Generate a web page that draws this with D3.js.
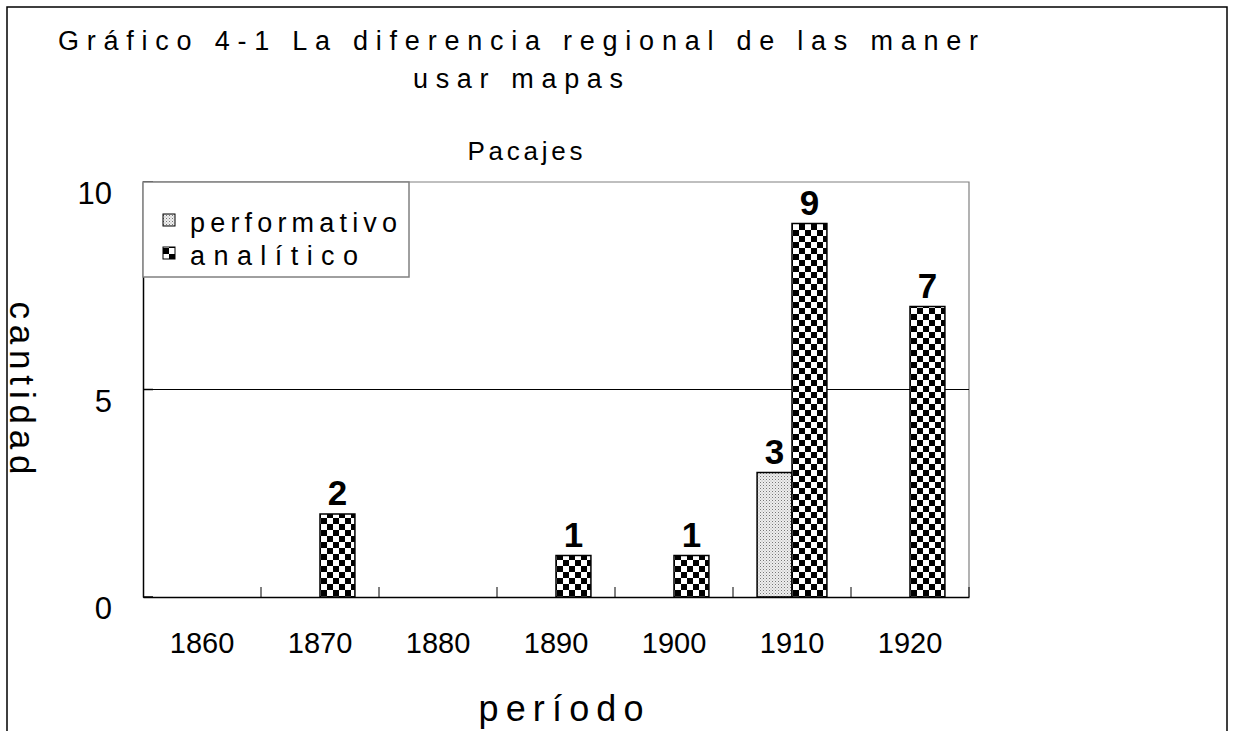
<!DOCTYPE html>
<html>
<head>
<meta charset="utf-8">
<script src="https://cdn.jsdelivr.net/npm/d3@7"></script>
<style>
  body { margin: 0; background: #fff; }
  text { font-family: "Liberation Sans", Arial, sans-serif; fill: #000; }
</style>
</head>
<body>
<div id="chart"></div>
<script>
'use strict';

// chart values
const categories = ['1860', '1870', '1880', '1890', '1900', '1910', '1920'];
const seriesNames = ['performativo', 'analítico'];
const performativo = [0, 0, 0, 0, 0, 3, 0];
const analitico = [0, 2, 0, 1, 1, 9, 7];
const yTicks = [0, 5, 10];

const titleLines = ['Gráfico 4-1  La diferencia regional de las maner', 'usar mapas'];
const subTitle = 'Pacajes';
const xTitle = 'período';
const yTitle = 'cantidad';

const W = 1233, H = 731;
const margin = {top: 182, right: 264, bottom: 134, left: 143};
const width = W - margin.left - margin.right,
    height = H - margin.top - margin.bottom;

const svg = d3.select('#chart')
  .append('svg')
    .attr('width', W)
    .attr('height', H);

// fill patterns
const defs = svg.append('defs');
const dots = defs.append('pattern')
    .attr('id', 'pat-perf')
    .attr('patternUnits', 'userSpaceOnUse')
    .attr('width', 3).attr('height', 3);
dots.append('rect').attr('width', 3).attr('height', 3).attr('fill', '#eeeeee');
dots.append('rect').attr('width', 1).attr('height', 1).attr('fill', '#777');
dots.append('rect').attr('x', 1.5).attr('y', 1.5).attr('width', 1).attr('height', 1).attr('fill', '#aaa');

const checks = defs.append('pattern')
    .attr('id', 'pat-anal')
    .attr('patternUnits', 'userSpaceOnUse')
    .attr('width', 12).attr('height', 12);
checks.append('rect').attr('width', 12).attr('height', 12).attr('fill', '#fff');
checks.append('rect').attr('width', 6).attr('height', 6).attr('fill', '#000');
checks.append('rect').attr('x', 6).attr('y', 6).attr('width', 6).attr('height', 6).attr('fill', '#000');

const fills = {'performativo': 'url(#pat-perf)', 'analítico': 'url(#pat-anal)'};

// outer frame
svg.append('rect')
    .attr('x', 7).attr('y', 7)
    .attr('width', 1220).attr('height', 760)
    .attr('fill', 'none')
    .attr('stroke', '#000')
    .attr('stroke-width', 1.5);

// titles
svg.selectAll('.title')
  .data(titleLines)
  .join('text')
    .attr('class', 'title')
    .attr('x', 518)
    .attr('y', (d, i) => 50 + i * 38)
    .attr('text-anchor', 'middle')
    .attr('font-size', 27)
    .attr('textLength', (d, i) => i === 0 ? 920 : 210)
    .attr('lengthAdjust', 'spacing')
    .text(d => d);

svg.append('text')
    .attr('x', 525)
    .attr('y', 160)
    .attr('text-anchor', 'middle')
    .attr('font-size', 26)
    .attr('textLength', 115)
    .attr('lengthAdjust', 'spacing')
    .text(subTitle);

const g = svg.append('g')
    .attr('transform', `translate(${margin.left},${margin.top})`);

// scales
const x = d3.scaleBand()
    .domain(categories)
    .range([0, width]);
const xs = d3.scaleBand()
    .domain(seriesNames)
    .range([0, x.bandwidth()])
    .paddingOuter(0.69);
const y = d3.scaleLinear()
    .domain([0, 10])
    .range([height, 0]);

// plot frame (top / right) and gridline
g.append('path')
    .attr('d', `M0,${y(10)}H${width}V${height}`)
    .attr('fill', 'none')
    .attr('stroke', '#808080')
    .attr('stroke-width', 1.2);

g.selectAll('.grid')
  .data(yTicks.filter(t => t > 0 && t < 10))
  .join('line')
    .attr('class', 'grid')
    .attr('x1', 0).attr('x2', width)
    .attr('y1', d => y(d)).attr('y2', d => y(d))
    .attr('stroke', '#000')
    .attr('stroke-width', 1);

// bars
const rows = categories.map((c, i) => ({
    cat: c,
    vals: [
        {key: 'performativo', value: performativo[i]},
        {key: 'analítico', value: analitico[i]}
    ]
}));

const groups = g.selectAll('.grp')
  .data(rows)
  .join('g')
    .attr('class', 'grp')
    .attr('transform', d => `translate(${x(d.cat)},0)`);

groups.selectAll('rect')
  .data(d => d.vals.filter(v => v.value > 0))
  .join('rect')
    .attr('x', d => xs(d.key))
    .attr('y', d => y(d.value))
    .attr('width', xs.bandwidth())
    .attr('height', d => height - y(d.value))
    .attr('fill', d => fills[d.key])
    .attr('stroke', '#000')
    .attr('stroke-width', 1.5);

groups.selectAll('.lbl')
  .data(d => d.vals.filter(v => v.value > 0))
  .join('text')
    .attr('class', 'lbl')
    .attr('x', d => xs(d.key) + xs.bandwidth() / 2)
    .attr('y', d => y(d.value) - 9)
    .attr('text-anchor', 'middle')
    .attr('font-size', 35)
    .attr('font-weight', 'bold')
    .text(d => d.value);

// y axis
const yAxis = g.append('g')
    .call(d3.axisLeft(y).tickValues(yTicks).tickSize(0).tickPadding(31));
yAxis.select('.domain').attr('stroke', '#000').attr('stroke-width', 1.5);
yAxis.selectAll('text')
    .attr('font-size', 31)
    .attr('font-family', '"Liberation Sans", Arial, sans-serif')
    .attr('dy', '0.7em');

g.selectAll('.ytick')
  .data(yTicks)
  .join('line')
    .attr('class', 'ytick')
    .attr('x1', 0).attr('x2', 10)
    .attr('y1', d => y(d)).attr('y2', d => y(d))
    .attr('stroke', '#000')
    .attr('stroke-width', 1.5);

// x axis
const xAxis = g.append('g')
    .attr('transform', `translate(0,${height})`)
    .call(d3.axisBottom(x).tickSize(0).tickPadding(35));
xAxis.select('.domain').attr('stroke', '#000').attr('stroke-width', 1.5);
xAxis.selectAll('text')
    .attr('font-size', 29)
    .attr('font-family', '"Liberation Sans", Arial, sans-serif');

g.selectAll('.xtick')
  .data(categories.slice(1).concat(['end']))
  .join('line')
    .attr('class', 'xtick')
    .attr('x1', d => d === 'end' ? width : x(d))
    .attr('x2', d => d === 'end' ? width : x(d))
    .attr('y1', height - 10).attr('y2', height)
    .attr('stroke', '#000')
    .attr('stroke-width', 1);

// axis titles
svg.append('text')
    .attr('x', margin.left + width / 2 + 5)
    .attr('y', 721)
    .attr('text-anchor', 'middle')
    .attr('font-size', 36)
    .attr('textLength', 165)
    .attr('lengthAdjust', 'spacing')
    .text(xTitle);

svg.append('text')
    .attr('transform', 'translate(10,388) rotate(90)')
    .attr('text-anchor', 'middle')
    .attr('font-size', 35)
    .attr('textLength', 173)
    .attr('lengthAdjust', 'spacing')
    .text(yTitle);

// legend
const legend = svg.append('g')
    .attr('transform', `translate(${margin.left},${margin.top})`);
legend.append('rect')
    .attr('width', 266).attr('height', 95)
    .attr('fill', '#fff')
    .attr('stroke', '#808080')
    .attr('stroke-width', 1.5);

const items = legend.selectAll('.item')
  .data(seriesNames)
  .join('g')
    .attr('class', 'item')
    .attr('transform', (d, i) => `translate(20,${45 + i * 33})`);
items.append('rect')
    .attr('y', -13)
    .attr('width', 12).attr('height', 12)
    .attr('fill', d => fills[d])
    .attr('stroke', '#000')
    .attr('stroke-width', 1);
items.append('text')
    .attr('x', 27)
    .attr('y', 5)
    .attr('font-size', 27)
    .attr('textLength', (d, i) => i === 0 ? 207 : 168)
    .attr('lengthAdjust', 'spacing')
    .text(d => d);
</script>
</body>
</html>
